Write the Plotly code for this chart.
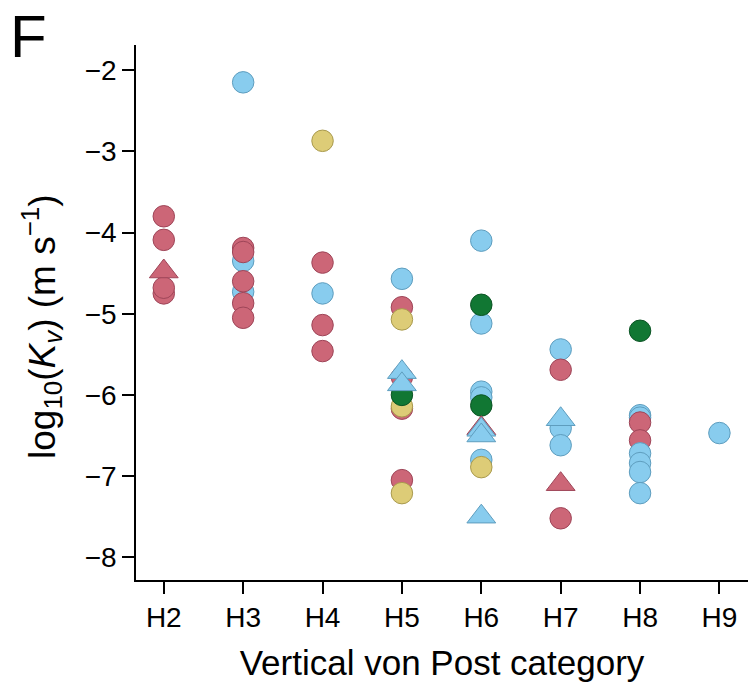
import plotly.graph_objects as go

categories = ["H2", "H3", "H4", "H5", "H6", "H7", "H8", "H9"]

# circle points (drawn in this order): category, value, group
circle_cat = ["H2", "H2", "H2", "H2",
              "H3", "H3", "H3", "H3", "H3", "H3", "H3", "H3",
              "H4", "H4", "H4", "H4", "H4",
              "H5", "H5", "H5", "H5", "H5", "H5", "H5", "H5", "H5",
              "H6", "H6", "H6", "H6", "H6", "H6", "H6", "H6",
              "H7", "H7", "H7", "H7", "H7",
              "H8", "H8", "H8", "H8", "H8", "H8", "H8", "H8", "H8",
              "H9"]
circle_val = [-3.80, -4.09, -4.75, -4.68,
              -2.15, -4.35, -4.73, -4.19, -4.24, -4.60, -4.87, -5.05,
              -2.87, -4.37, -4.75, -5.14, -5.46,
              -4.57, -4.92, -5.07, -5.78, -6.17, -6.14, -6.00, -7.05, -7.21,
              -4.10, -5.12, -4.89, -5.96, -6.03, -6.13, -6.80, -6.89,
              -5.44, -5.69, -6.41, -6.62, -7.52,
              -5.21, -6.25, -6.28, -6.34, -6.56, -6.72, -6.84, -6.95, -7.21,
              -6.47]
circle_grp = ["r", "r", "r", "r",
              "b", "b", "b", "r", "r", "r", "r", "r",
              "y", "r", "b", "r", "r",
              "b", "r", "y", "r", "r", "y", "g", "r", "y",
              "b", "b", "g", "b", "b", "g", "b", "y",
              "b", "r", "b", "b", "r",
              "g", "b", "b", "r", "r", "b", "b", "b", "b",
              "b"]

# triangle points
tri_cat = ["H2", "H5", "H5", "H6", "H6", "H6", "H6", "H7", "H7"]
tri_val = [-4.48, -5.72, -5.87, -6.41, -6.43, -6.50, -7.50, -6.30, -7.10]
tri_grp = ["r", "b", "b", "r", "b", "b", "b", "b", "r"]

fill = {"r": "#CC6677", "b": "#88CCEE", "y": "#DDCC77", "g": "#117733"}
edge = {"r": "#9E4558", "b": "#5E9DBE", "y": "#A99A4E", "g": "#0B5424"}

fig = go.Figure()
fig.add_trace(go.Scatter(
    x=circle_cat, y=circle_val, mode="markers",
    marker=dict(symbol="circle", size=21.5,
                color=[fill[g] for g in circle_grp],
                line=dict(color=[edge[g] for g in circle_grp], width=1)),
    showlegend=False, hoverinfo="skip"))
fig.add_trace(go.Scatter(
    x=tri_cat, y=tri_val, mode="markers",
    marker=dict(symbol="triangle-up", size=25,
                color=[fill[g] for g in tri_grp],
                line=dict(color=[edge[g] for g in tri_grp], width=1)),
    showlegend=False, hoverinfo="skip"))

axis_common = dict(showline=True, linecolor="black", linewidth=1.6,
                   ticks="outside", ticklen=12, tickcolor="black", tickwidth=1.6,
                   tickfont=dict(size=28, color="black"), showgrid=False, zeroline=False)

fig.update_layout(
    width=751, height=685,
    margin=dict(l=136, r=3, t=45, b=105),
    plot_bgcolor="white", paper_bgcolor="white",
    font=dict(family="Liberation Sans, Arial, sans-serif", color="black"),
    xaxis=dict(type="category", categoryorder="array", categoryarray=categories,
               range=[-0.35, 7.36],
               title=dict(text="Vertical von Post category", font=dict(size=35), standoff=18),
               **axis_common),
    yaxis=dict(range=[-8.28, -1.69], tickvals=[-2, -3, -4, -5, -6, -7, -8],
               ticktext=["−2", "−3", "−4", "−5", "−6", "−7", "−8"],
               **axis_common),
    annotations=[
        dict(text="F", x=-0.209, y=1.016, xref="paper", yref="paper",
             xanchor="left", yanchor="middle", showarrow=False,
             font=dict(size=60, color="black")),
        dict(text="log<sub>10</sub>(<i>K</i><sub><i>v</i></sub>) (m s<sup>−1</sup>)",
             x=-0.1536, y=0.4748, xref="paper", yref="paper", textangle=-90,
             xanchor="center", yanchor="middle", showarrow=False,
             font=dict(size=37, color="black")),
    ]
)

fig.write_html("out.html")
